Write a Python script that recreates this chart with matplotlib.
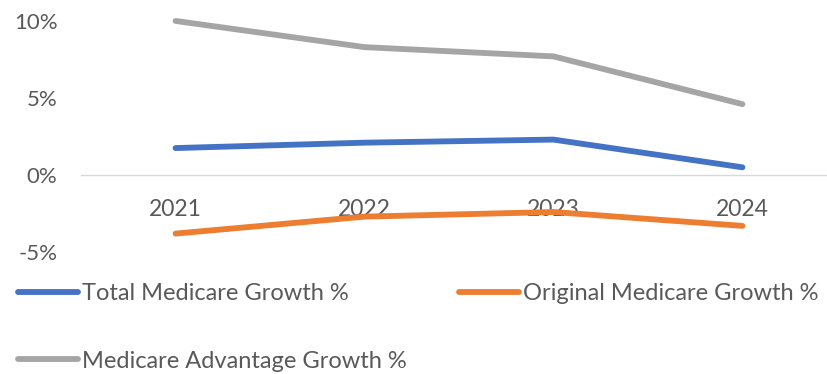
import matplotlib
matplotlib.use("Agg")
import matplotlib.pyplot as plt
from matplotlib.ticker import FuncFormatter

years = ["2021", "2022", "2023", "2024"]
total_growth = [1.75, 2.1, 2.3, 0.5]
original_growth = [-3.8, -2.7, -2.4, -3.3]
advantage_growth = [10.0, 8.3, 7.7, 4.6]

series = [
    ("Total Medicare Growth %", total_growth, "#4472C4"),
    ("Original Medicare Growth %", original_growth, "#ED7D31"),
    ("Medicare Advantage Growth %", advantage_growth, "#A5A5A5"),
]

TEXT = "#595959"
plt.rcParams["font.family"] = ["Lato", "DejaVu Sans"]

fig = plt.figure(figsize=(8.27, 3.74), dpi=100)
ax = fig.add_axes([0.098, 0.326, 0.914, 0.618])

x = list(range(len(years)))
for label, values, color in series:
    ax.plot(x, values, color=color, lw=4.2, solid_capstyle="round",
            solid_joinstyle="round", label=label, clip_on=False)

ax.set_xlim(-0.5, 3.5)
ax.set_ylim(-5, 10)
ax.set_yticks([-5, 0, 5, 10])
ax.yaxis.set_major_formatter(FuncFormatter(lambda v, _: f"{v:.0f}%"))
ax.set_xticks(x)
ax.set_xticklabels(years)

for side in ["top", "right", "left"]:
    ax.spines[side].set_visible(False)
ax.spines["bottom"].set_position(("data", 0))
ax.spines["bottom"].set_color("#D9D9D9")
ax.spines["bottom"].set_linewidth(1.0)
ax.spines["bottom"].set_zorder(0)

ax.tick_params(axis="x", length=0, pad=17, labelsize=16.5, labelcolor=TEXT)
ax.tick_params(axis="y", length=0, pad=17, labelsize=16, labelcolor=TEXT)

# legend fills column by column, so order entries to read row by row
handles, labels = ax.get_legend_handles_labels()
order = [0, 2, 1]
fig.legend([handles[i] for i in order], [labels[i] for i in order],
           loc="upper left", bbox_to_anchor=(0.022, 0.242),
           ncol=2, frameon=False, fontsize=17, labelcolor=TEXT,
           handlelength=2.55, handletextpad=0.17, columnspacing=2.2,
           labelspacing=1.95, borderaxespad=0, borderpad=0)

fig.savefig("out.png", dpi=100)
